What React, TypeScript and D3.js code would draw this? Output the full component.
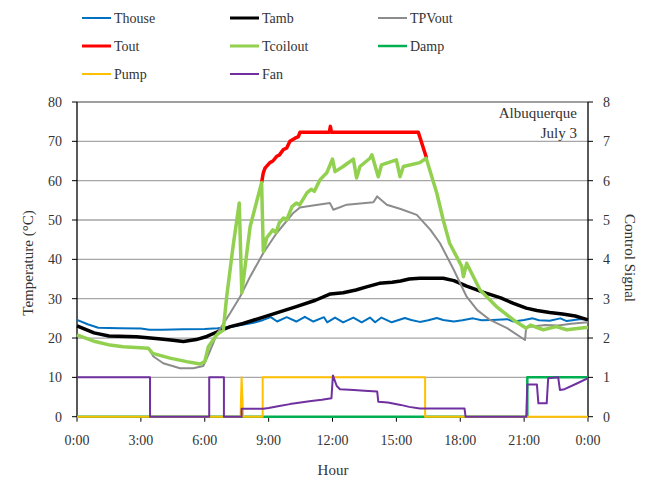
import React from "react";
import * as d3 from "d3";

type P = [number, number];

const hourTicks = [0, 3, 6, 9, 12, 15, 18, 21, 24];
const hourLabels = ["0:00", "3:00", "6:00", "9:00", "12:00", "15:00", "18:00", "21:00", "0:00"];
const tempTicks = [0, 10, 20, 30, 40, 50, 60, 70, 80];
const signalTicks = [0, 1, 2, 3, 4, 5, 6, 7, 8];

const thouse: P[] = [
  [0, 24.6], [0.5, 23.5], [1, 22.6], [2, 22.5], [3, 22.4], [3.4, 22.1], [4, 22.1], [5, 22.2], [6, 22.3],
  [6.6, 22.5], [7.2, 22.8], [7.7, 23.3], [8.3, 23.9], [8.75, 24.6], [9.1, 25.3], [9.4, 24.2], [9.85, 25.3],
  [10.3, 24.2], [10.7, 25.4], [11.1, 24.2], [11.6, 25.3], [11.75, 24.0], [12.12, 25.2], [12.5, 24.0],
  [12.98, 25.2], [13.37, 24.0], [13.76, 25.2], [14.0, 24.0], [14.3, 25.2], [14.78, 24.0], [15.4, 25.1],
  [15.7, 24.6], [16.1, 24.1], [16.5, 24.5], [16.9, 25.1], [17.2, 24.6], [17.7, 24.2], [18.1, 24.5],
  [18.6, 25.0], [19.0, 24.5], [19.5, 24.6], [20.2, 24.8], [20.5, 24.2], [21.0, 24.6], [21.4, 25.0],
  [21.7, 24.5], [22.2, 24.4], [22.7, 25.0], [23.0, 24.3], [23.6, 24.8], [24, 24.8]
];

const tamb: P[] = [
  [0, 23.1], [0.4, 22.2], [0.8, 21.3], [1.5, 20.5], [2.8, 20.3], [3.7, 19.9], [4.4, 19.5], [5.0, 19.1],
  [5.6, 19.6], [6.1, 20.4], [6.6, 21.6], [7.2, 22.9], [7.8, 23.7], [8.75, 25.3], [10.3, 28.0], [11.2, 29.6],
  [11.9, 31.2], [12.5, 31.5], [13.1, 32.2], [13.6, 33.0], [14.2, 33.9], [14.8, 34.2], [15.2, 34.5],
  [15.6, 35.0], [16.1, 35.2], [17.2, 35.2], [17.7, 34.6], [18.3, 33.2], [19.1, 31.6], [19.9, 30.2],
  [20.5, 28.8], [21.1, 27.6], [21.6, 27.0], [22.2, 26.5], [22.8, 26.1], [23.4, 25.6], [24, 24.6]
];

const tpvout: P[] = [
  [0, 20.8], [0.85, 19.1], [1.55, 18.2], [2.17, 17.8], [3.35, 17.4], [3.59, 15.3], [4.05, 13.6],
  [4.84, 12.3], [5.46, 12.3], [5.93, 12.9], [6.17, 15.7], [6.4, 18.7], [6.56, 21.0], [7.19, 26.3],
  [7.66, 30.5], [8.13, 35.6], [8.75, 41.6], [9.38, 46.7], [10.16, 51.8], [10.47, 53.2], [11.0, 53.6],
  [11.88, 54.3], [12.04, 52.6], [12.67, 53.9], [13.3, 54.2], [13.92, 54.5], [14.1, 56.0], [14.55, 53.9],
  [15.2, 52.8], [15.96, 51.3], [16.6, 47.5], [17.05, 44.1], [17.7, 37.3], [18.3, 30.5], [18.8, 27.1],
  [19.4, 24.6], [20.2, 22.5], [21.04, 19.5], [21.1, 22.8], [21.5, 23.0], [22.0, 23.3], [22.6, 23.2],
  [23.2, 23.6], [24, 24.0]
];

const tout: P[] = [
  [8.67, 59.5], [8.75, 62.0], [8.83, 63.2], [9.06, 64.6], [9.2, 65.0], [9.38, 66.2], [9.5, 66.5],
  [9.69, 67.9], [9.85, 68.3], [10.0, 70.0], [10.24, 70.8], [10.4, 71.2], [10.47, 72.3], [11.85, 72.3],
  [11.9, 73.8], [11.95, 72.3], [16.03, 72.3], [16.42, 65.7]
];

const tcoilout: P[] = [
  [0, 20.8], [0.85, 19.1], [1.55, 18.2], [2.17, 17.8], [3.35, 17.4], [3.55, 16.1], [4.37, 14.9],
  [5.15, 14.0], [5.78, 13.4], [6.0, 14.0], [6.17, 17.8], [6.56, 20.8], [6.87, 22.0], [7.03, 30.5],
  [7.33, 43.3], [7.62, 54.3], [7.74, 31.5], [8.13, 48.3], [8.67, 59.5], [8.75, 42.0], [8.91, 45.5],
  [9.2, 47.5], [9.35, 46.8], [9.5, 49.3], [9.7, 50.5], [9.85, 50.0], [10.1, 53.4], [10.3, 54.3],
  [10.45, 53.8], [10.8, 56.9], [11.0, 57.8], [11.15, 57.3], [11.41, 60.2], [11.73, 62.0], [12.0, 65.5],
  [12.12, 62.3], [12.5, 63.6], [12.98, 65.5], [13.13, 60.7], [13.29, 63.6], [13.76, 65.7], [13.85, 66.6],
  [14.15, 61.0], [14.3, 64.0], [15.0, 65.3], [15.17, 61.0], [15.33, 63.6], [16.1, 64.6], [16.4, 65.7],
  [16.9, 56.8], [17.2, 50.0], [17.5, 44.1], [18.07, 38.2], [18.15, 35.6], [18.3, 39.0], [18.93, 32.2],
  [19.7, 28.0], [20.5, 24.6], [21.1, 22.5], [21.3, 23.3], [21.9, 22.1], [22.5, 22.9], [23.0, 22.1],
  [23.9, 22.7], [24, 22.7]
];

const damp: P[] = [[0, 0], [21.15, 0], [21.15, 1], [24, 1]];

const pump: P[] = [
  [0, 0], [7.68, 0], [7.73, 1], [7.8, 0], [8.72, 0], [8.72, 1], [16.35, 1], [16.35, 0], [24, 0]
];

const fan: P[] = [
  [0, 1], [3.43, 1], [3.43, 0], [6.21, 0], [6.21, 1], [6.9, 1], [6.9, 0], [7.73, 0], [7.73, 0.2],
  [8.75, 0.2], [9.0, 0.22], [9.5, 0.27], [10, 0.32], [10.5, 0.36], [11, 0.4], [11.5, 0.43], [11.95, 0.47],
  [12.02, 1.05], [12.2, 0.78], [12.35, 0.7], [13.0, 0.68], [13.5, 0.66], [14.1, 0.64], [14.15, 0.38],
  [14.6, 0.36], [15.2, 0.3], [15.6, 0.25], [16.1, 0.21], [18.2, 0.21], [18.25, 0], [21.1, 0],
  [21.15, 0.82], [21.6, 0.82], [21.67, 0.34], [22.06, 0.34], [22.13, 0.98], [22.6, 1.0], [22.68, 0.68],
  [22.9, 0.7], [23.5, 0.85], [24, 0.98]
];

const seriesNames = ["Thouse", "Tamb", "TPVout", "Tout", "Tcoilout", "Damp", "Pump", "Fan"];
const seriesColors = ["#0070C0", "#000000", "#8C8C8C", "#FF0000", "#92D050", "#00B050", "#FFC000", "#7030A0"];
const seriesWidths = [2, 3.5, 2, 3.5, 3.5, 2.5, 2, 2];

export default function App() {
  const W = 645, H = 478;
  const left = 77, right = 588, top = 102, bottom = 416.7;
  const x = d3.scaleLinear().domain([0, 24]).range([left, right]);
  const y = d3.scaleLinear().domain([0, 80]).range([bottom, top]);
  const y2 = d3.scaleLinear().domain([0, 8]).range([bottom, top]);

  const lineT = d3.line<P>().x(d => x(d[0])).y(d => y(d[1]));
  const lineS = d3.line<P>().x(d => x(d[0])).y(d => y2(d[1]));

  const temps = [thouse, tamb, tpvout, tout, tcoilout];
  const sigs = [damp, pump, fan];

  const font = "'Liberation Serif', 'Times New Roman', serif";
  const legendCols = [82, 230, 378];
  const legendRows = [18, 46, 74];

  return (
    <svg width={W} height={H} style={{ position: "absolute", left: 0, top: 0, background: "#fff" }} fontFamily={font}>
      {/* grid */}
      {tempTicks.filter(t => t > 0).map(t => (
        <line key={"g" + t} x1={left} x2={right} y1={y(t)} y2={y(t)}
          stroke={t === 80 ? "#808080" : "#A6A6A6"} strokeWidth={1.3} />
      ))}
      {/* left axis */}
      <line x1={left} x2={left} y1={top} y2={bottom} stroke="#000" strokeWidth={1.3} />
      {tempTicks.map(t => (
        <g key={"lt" + t}>
          <line x1={left - 5} x2={left} y1={y(t)} y2={y(t)} stroke="#000" strokeWidth={1} />
          <text x={62} y={y(t)} dy="0.35em" textAnchor="end" fontSize={14} fill="#333">{t}</text>
        </g>
      ))}
      {/* right axis */}
      <line x1={right} x2={right} y1={top} y2={bottom} stroke="#000" strokeWidth={1.3} />
      {signalTicks.map(t => (
        <g key={"rt" + t}>
          <line x1={right} x2={right + 5} y1={y2(t)} y2={y2(t)} stroke="#000" strokeWidth={1} />
          <text x={603} y={y2(t)} dy="0.35em" textAnchor="start" fontSize={14} fill="#333">{t}</text>
        </g>
      ))}
      {/* bottom axis */}
      <line x1={left} x2={right} y1={bottom} y2={bottom} stroke="#000" strokeWidth={1.3} />
      {hourTicks.map((h, i) => (
        <g key={"bt" + i}>
          <line x1={x(h)} x2={x(h)} y1={bottom} y2={bottom + 5} stroke="#000" strokeWidth={1} />
          <text x={x(h)} y={440} dy="0.35em" textAnchor="middle" fontSize={14} fill="#333">{hourLabels[i]}</text>
        </g>
      ))}
      {/* series */}
      {temps.map((s, i) => (
        <path key={"s" + i} d={lineT(s) || ""} fill="none" stroke={seriesColors[i]}
          strokeWidth={seriesWidths[i]} strokeLinejoin="round" />
      ))}
      {sigs.map((s, i) => (
        <path key={"c" + i} d={lineS(s) || ""} fill="none" stroke={seriesColors[i + 5]}
          strokeWidth={seriesWidths[i + 5]} strokeLinejoin="round" />
      ))}
      {/* axis titles */}
      <text x={333} y={470} dy="0.35em" textAnchor="middle" fontSize={15} fill="#333">Hour</text>
      <text transform="translate(28,263) rotate(-90)" textAnchor="middle" dy="0.35em" fontSize={15} fill="#333">Temperature (°C)</text>
      <text transform="translate(630,258) rotate(90)" textAnchor="middle" dy="0.35em" fontSize={15} fill="#333">Control Signal</text>
      {/* annotation */}
      <text x={577} y={118} textAnchor="end" fontSize={15} fill="#333">Albuquerque</text>
      <text x={577} y={138} textAnchor="end" fontSize={15} fill="#333">July 3</text>
      {/* legend */}
      {seriesNames.map((n, i) => {
        const cx = legendCols[i % 3];
        const cy = legendRows[Math.floor(i / 3)];
        return (
          <g key={"lg" + n}>
            <line x1={cx} x2={cx + 29} y1={cy} y2={cy} stroke={seriesColors[i]} strokeWidth={Math.min(seriesWidths[i], 3)} />
            <text x={cx + 32} y={cy} dy="0.35em" fontSize={14} fill="#333">{n}</text>
          </g>
        );
      })}
    </svg>
  );
}
